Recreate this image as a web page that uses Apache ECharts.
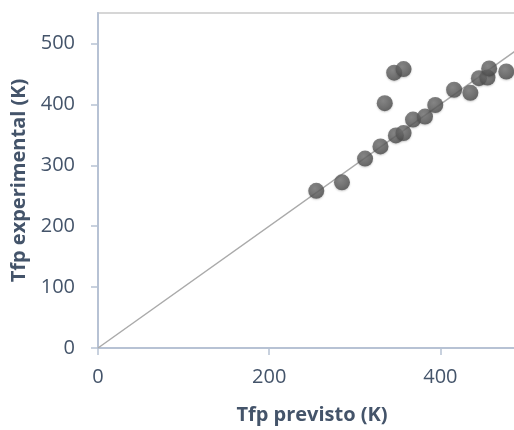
<!DOCTYPE html>
<html>
<head>
<meta charset="utf-8">
<script src="https://cdn.jsdelivr.net/npm/echarts@6/dist/echarts.min.js"></script>
<style>
html,body{margin:0;padding:0;background:#fff;overflow:hidden;width:514px;height:430px;}
#chart{width:540px;height:430px;}
</style>
</head>
<body>
<div id="chart"></div>
<script>
// Data
const predicted    = [255, 285, 312, 330, 348, 357, 368, 382, 394, 416, 435, 445, 455, 457, 477, 335, 346, 357];
const experimental = [258, 272, 311, 331, 349, 353, 375, 380, 399, 424, 419, 443, 444, 459, 454, 402, 452, 458];
const refLineX = [0, 500];
const xTicks = [0, 200, 400];
const yTicks = [0, 100, 200, 300, 400, 500];
const xTitle = 'Tfp previsto (K)';
const yTitle = 'Tfp experimental (K)';

const points = predicted.map((v, i) => [v, experimental[i]]);
const refLine = refLineX.map(v => [v, v]);

const axisCol = '#b7c2d4';
const textCol = '#44546a';
const font = 'Open Sans';

const chart = echarts.init(document.getElementById('chart'), null, {renderer: 'canvas'});
chart.setOption({
  animation: false,
  backgroundColor: '#fff',
  grid: {left: 98, right: 14, top: 13, bottom: 78, show: true, borderColor: '#d6d6d6', borderWidth: 2, containLabel: false},
  xAxis: {
    type: 'value', min: 0, max: 500, interval: 100,
    name: xTitle, nameLocation: 'middle', nameGap: 57,
    nameTextStyle: {color: textCol, fontFamily: font, fontWeight: 'bold', fontSize: 20},
    axisLine: {show: true, lineStyle: {color: axisCol, width: 2}},
    axisTick: {show: true, length: 7, customValues: xTicks, lineStyle: {color: axisCol, width: 1.5}},
    axisLabel: {customValues: xTicks, color: textCol, fontFamily: font, fontSize: 20, margin: 19},
    splitLine: {show: false}
  },
  yAxis: {
    type: 'value', min: 0, max: 550, interval: 100,
    name: yTitle, nameLocation: 'middle', nameGap: 64, nameRotate: 90,
    nameTextStyle: {color: textCol, fontFamily: font, fontWeight: 'bold', fontSize: 20},
    axisLine: {show: true, lineStyle: {color: axisCol, width: 2}},
    axisTick: {show: true, length: 7, customValues: yTicks, lineStyle: {color: axisCol, width: 1.5}},
    axisLabel: {customValues: yTicks, color: textCol, fontFamily: font, fontSize: 20, margin: 23},
    splitLine: {show: false}
  },
  series: [
    {
      type: 'line', data: refLine, symbol: 'none', silent: true,
      lineStyle: {color: '#aaaaaa', width: 1.5}, z: 1
    },
    {
      type: 'scatter', data: points, symbolSize: 16, z: 2,
      itemStyle: {
        color: {type: 'radial', x: 0.4, y: 0.35, r: 0.65, colorStops: [
          {offset: 0, color: '#737373'}, {offset: 0.7, color: '#585858'}, {offset: 1, color: '#4a4a4a'}]},
        shadowColor: 'rgba(0,0,0,0.25)', shadowBlur: 2, shadowOffsetY: 1
      }
    }
  ]
});
</script>
</body>
</html>
